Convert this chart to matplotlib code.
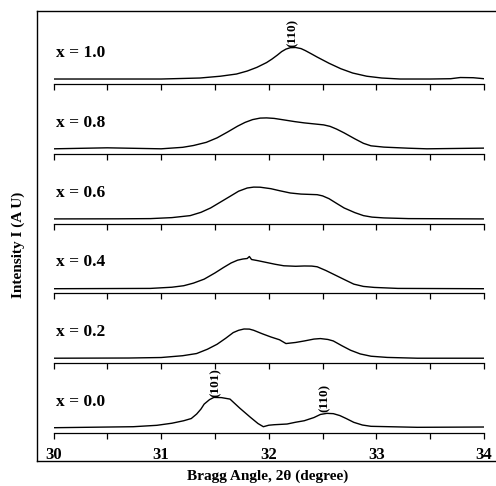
import numpy as np
import matplotlib.pyplot as plt

# XRD patterns around the (101)/(110) region
# intensities are arbitrary units (same scale for every panel)
angle_10 = [30.0, 30.5, 31.0, 31.36, 31.55, 31.7, 31.8, 31.89, 31.98, 32.03, 32.08, 32.12,
            32.16, 32.2, 32.25, 32.3, 32.34, 32.4, 32.45, 32.56, 32.67, 32.78, 32.91,
            33.05, 33.22, 33.5, 33.69, 33.78, 33.9, 34.0]
inten_10 = [5.0, 5.0, 5.0, 6.0, 7.8, 10.0, 13.0, 16.7, 21.5, 25.0, 29.0, 32.5,
            35.0, 36.4, 36.6, 35.5, 33.5, 30.0, 27.0, 20.8, 15.3, 11.0, 7.8,
            6.0, 5.0, 5.0, 5.3, 6.5, 6.3, 5.3]

angle_08 = [30.0, 30.5, 31.0, 31.2, 31.3, 31.42, 31.52, 31.62, 31.71, 31.78, 31.85, 31.92,
            31.98, 32.05, 32.14, 32.24, 32.33, 32.42, 32.51, 32.57, 32.63, 32.7, 32.8,
            32.88, 32.95, 33.07, 33.3, 33.47, 34.0]
inten_08 = [5.0, 6.0, 5.0, 6.5, 8.3, 11.5, 16.0, 22.0, 27.7, 31.5, 34.3, 35.8,
            36.0, 35.5, 34.0, 32.3, 31.0, 30.0, 29.0, 27.5, 24.8, 21.0, 15.0,
            10.5, 8.0, 6.7, 5.6, 5.0, 5.7]

angle_06 = [30.0, 30.6, 30.9, 31.1, 31.27, 31.37, 31.46, 31.55, 31.64, 31.72, 31.8, 31.86,
            31.92, 32.02, 32.1, 32.2, 32.3, 32.45, 32.5, 32.56, 32.63, 32.7, 32.8,
            32.88, 32.96, 33.07, 33.3, 34.0]
inten_06 = [4.7, 4.8, 5.0, 6.0, 8.0, 11.3, 15.7, 21.5, 27.3, 32.5, 35.7, 36.6,
            36.5, 35.0, 33.0, 30.7, 29.6, 29.0, 27.8, 25.0, 20.3, 15.7, 11.0,
            8.0, 6.5, 5.7, 5.0, 4.7]

angle_04 = [30.0, 30.9, 31.1, 31.21, 31.3, 31.4, 31.5, 31.58, 31.65, 31.71, 31.76, 31.8,
            31.82, 31.84, 31.9, 31.98, 32.06, 32.14, 32.25, 32.33, 32.4, 32.45, 32.53,
            32.6, 32.7, 32.79, 32.88, 32.98, 33.2, 34.0]
inten_04 = [4.7, 5.0, 6.2, 7.7, 10.3, 14.3, 20.5, 26.0, 30.5, 33.3, 34.5, 35.0,
            37.0, 34.0, 32.8, 31.0, 29.2, 27.7, 27.2, 27.5, 27.4, 26.7, 23.0,
            19.3, 14.0, 9.3, 7.0, 6.0, 5.0, 4.7]

angle_02 = [30.0, 30.7, 31.0, 31.2, 31.33, 31.43, 31.52, 31.6, 31.67, 31.72, 31.77, 31.82,
            31.86, 31.94, 32.02, 32.1, 32.16, 32.25, 32.33, 32.42, 32.48, 32.55, 32.6,
            32.68, 32.76, 32.85, 32.95, 33.1, 33.38, 34.0]
inten_02 = [5.0, 5.2, 5.7, 7.5, 9.7, 14.0, 19.0, 25.0, 30.7, 33.0, 34.3, 34.2,
            33.0, 29.5, 26.3, 23.5, 19.7, 20.8, 22.3, 24.2, 24.7, 23.8, 22.3,
            17.5, 13.0, 9.3, 7.0, 5.8, 5.0, 5.0]

angle_00 = [30.0, 30.74, 30.96, 31.1, 31.21, 31.28, 31.33, 31.37, 31.4, 31.45, 31.49,
            31.56, 31.64, 31.73, 31.83, 31.9, 31.95, 32.0, 32.05, 32.17, 32.25, 32.33,
            32.42, 32.48, 32.54, 32.6, 32.66, 32.72, 32.79, 32.87, 32.95, 33.38, 34.0]
inten_00 = [5.3, 6.3, 7.7, 9.8, 12.3, 14.5, 19.0, 24.0, 29.0, 33.5, 35.7,
            35.5, 34.0, 25.0, 15.7, 9.5, 6.3, 7.8, 8.3, 9.0, 10.8, 12.3,
            15.5, 18.6, 19.7, 19.4, 17.5, 14.5, 10.7, 8.0, 6.7, 5.7, 6.0]

labels = ["x = 1.0", "x = 0.8", "x = 0.6", "x = 0.4", "x = 0.2", "x = 0.0"]
angles = [angle_10, angle_08, angle_06, angle_04, angle_02, angle_00]
intens = [inten_10, inten_08, inten_06, inten_04, inten_02, inten_00]

# peak markers: (panel, angle, height, text)
peak_panel = [0, 5, 5]
peak_angle = [32.22, 31.51, 32.52]
peak_height = [37.5, 36.5, 21.0]
peak_text = ["(110)", "(101)", "(110)"]

plt.rcParams["font.family"] = ["Liberation Serif", "DejaVu Serif"]
plt.rcParams["font.weight"] = "bold"

W, H = 496, 486
fig = plt.figure(figsize=(W / 100, H / 100), dpi=100)

# outer frame
frame = fig.add_axes([37 / W, 1 - 461 / H, 1.01 - 37 / W, (461 - 11) / H])
frame.set_xticks([])
frame.set_yticks([])
for s in frame.spines.values():
    s.set_linewidth(1.0)
frame.set_zorder(0)

# stacked panels
left = 53.5 / W
width = (484 - 53.5) / W
step = 69.8
axes = []
for i in range(6):
    base = 84 + step * i
    ax = fig.add_axes([left, 1 - base / H, width, step / H])
    ax.patch.set_visible(False)
    ax.set_zorder(1)
    ax.plot(angles[i], intens[i], color="black", linewidth=1.0)
    ax.set_xlim(30, 34)
    ax.set_ylim(0, 70)
    for s in ["top", "left", "right"]:
        ax.spines[s].set_visible(False)
    ax.spines["bottom"].set_linewidth(0.9)
    ax.set_yticks([])
    ax.set_xticks(np.arange(30, 34.01, 0.5))
    ax.tick_params(axis="x", direction="out", length=4, width=0.9, pad=6)
    if i < 5:
        ax.set_xticklabels([])
    else:
        ax.set_xticklabels(["30", "", "31", "", "32", "", "33", "", "34"],
                           fontsize=12, fontweight="bold")
    ax.text(30.02, 27, labels[i], fontsize=12.5, fontweight="bold", va="baseline")
    axes.append(ax)

for p, a, h, t in zip(peak_panel, peak_angle, peak_height, peak_text):
    axes[p].text(a, h, t, rotation=90, ha="center", va="bottom",
                 fontsize=9.5, fontweight="bold", clip_on=False, zorder=5)

fig.text(268 / W, 1 - 476 / H, "Bragg Angle, 2θ (degree)", ha="center", va="center",
         fontsize=11, fontweight="bold")
fig.text(18 / W, 1 - 245 / H, "Intensity I (A U)", rotation=90, ha="center", va="center",
         fontsize=11, fontweight="bold")

plt.savefig("out.png", dpi=100)
plt.close()
